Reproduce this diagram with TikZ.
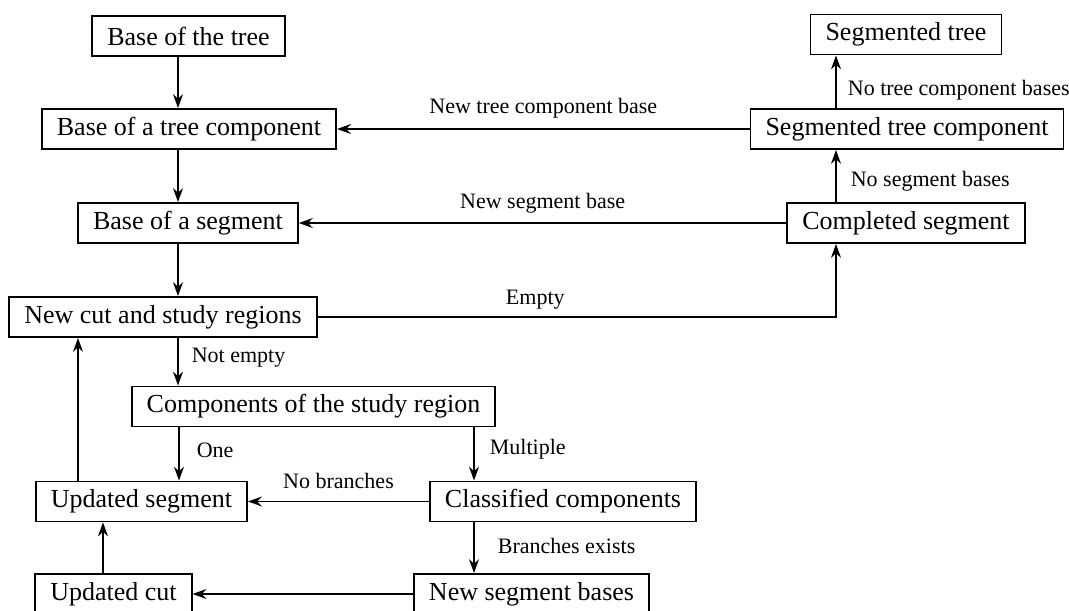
\documentclass[tikz,border=0pt]{standalone}
\usepackage{fontspec}
\setmainfont{Liberation Serif}
\usetikzlibrary{arrows.meta}
\begin{document}
\begin{tikzpicture}[x=0.5pt,y=-0.5pt,
  box/.style={draw, line width=0.9pt, inner xsep=7.5pt, minimum height=20pt, font=\fontsize{13}{15}\selectfont},
  lbl/.style={inner sep=0pt, font=\fontsize{11}{13}\selectfont},
  flow/.style={line width=0.85pt, -{Stealth[length=7pt, width=5pt, inset=2.4pt]}}]
\useasboundingbox (0,0) rectangle (1069,610);
\node[box] (tree) at (188.5,36) {Base of the tree};
\node[box] (comp) at (189,129) {Base of a tree component};
\node[box] (seg) at (188,223) {Base of a segment};
\node[box] (cut) at (163,317) {New cut and study regions};
\node[box] (studycomp) at (313.5,406.5) {Components of the study region};
\node[box] (upseg) at (141.5,501.5) {Updated segment};
\node[box] (classif) at (563,501.5) {Classified components};
\node[box] (upcut) at (113.5,594) {Updated cut};
\node[box] (newbases) at (531.5,594) {New segment bases};
\node[box] (segtree) at (906,34.5) {Segmented tree};
\node[box] (treecomp) at (907,129) {Segmented tree component};
\node[box] (doneseg) at (906,223) {Completed segment};

% columns of the vertical connectors
\coordinate (colL) at (178,0);
\coordinate (colM) at (474,0);
\coordinate (colR) at (836,0);

\draw[flow] (tree.south -| colL) -- (comp.north -| colL);
\draw[flow] (comp.south -| colL) -- (seg.north -| colL);
\draw[flow] (seg.south -| colL) -- (cut.north -| colL);
\draw[flow] (cut.south -| colL) -- node[lbl, anchor=west, xshift=6.5pt, yshift=2pt] {Not empty} (studycomp.north -| colL);
\draw[flow] ([xshift=0.5pt]studycomp.south -| colL) -- node[lbl, anchor=west, xshift=8.5pt, yshift=2pt] {One} ([xshift=0.5pt]upseg.north -| colL);
\draw[flow] (studycomp.south -| colM) -- node[lbl, anchor=west, xshift=7.5pt, yshift=2.5pt] {Multiple} (classif.north -| colM);
\draw[flow] (classif.west) -- node[lbl, yshift=10.5pt] {No branches} (upseg.east);
\draw[flow] (classif.south -| colM) -- node[lbl, anchor=west, xshift=11.5pt, yshift=1pt] {Branches exists} (newbases.north -| colM);
\draw[flow] (newbases.west) -- (upcut.east);
\draw[flow] (upcut.north -| 103,0) -- (upseg.south -| 103,0);
\draw[flow] (upseg.north -| 78,0) -- (cut.south -| 78,0);
\draw[flow] (cut.east) -- node[lbl, pos=0.42, yshift=8.5pt] {Empty} (cut.east -| colR) -- (doneseg.south -| colR);
\draw[flow] (doneseg.west) -- node[lbl, yshift=10pt] {New segment base} (seg.east);
\draw[flow] (doneseg.north -| colR) -- node[lbl, anchor=west, xshift=7pt, yshift=-2.5pt] {No segment bases} (treecomp.south -| colR);
\draw[flow] (treecomp.west) -- node[lbl, yshift=10.5pt] {New tree component base} (comp.east);
\draw[flow] (treecomp.north -| colR) -- node[lbl, anchor=west, xshift=5.5pt, yshift=-4pt] {No tree component bases} (segtree.south -| colR);
\end{tikzpicture}
\end{document}
